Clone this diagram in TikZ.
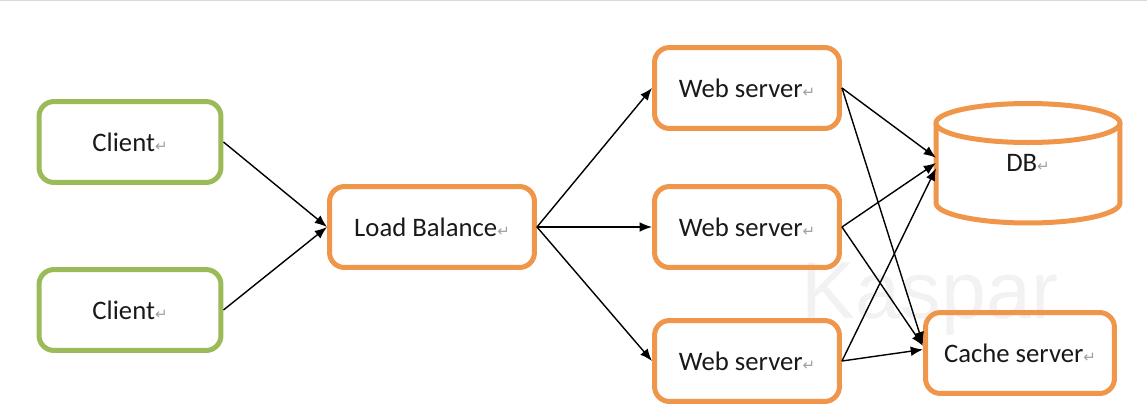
\documentclass[tikz,border=0pt]{standalone}
\usepackage{fontspec}
\setmainfont{Carlito}
\newfontfamily\symfont{DejaVu Sans}
\newfontfamily\markfont{Liberation Sans}
\usetikzlibrary{arrows.meta}

\definecolor{boxgreen}{RGB}{155,187,89}
\definecolor{boxorange}{RGB}{240,150,75}

% Word paragraph mark after each label
\newcommand{\retmark}{{\symfont\fontsize{8.5}{8.5}\selectfont\color{gray!75}\char"21B5}}

\tikzset{
	box/.style = {draw, rounded corners = 0.3cm, line width = 0.1cm, minimum height = 1.62cm,
		font = \fontsize{15.2}{17}\selectfont, text = black!90},
	clientbox/.style = {box, draw = boxgreen, minimum width = 3.64cm},
	serverbox/.style = {box, draw = boxorange, minimum width = 3.7cm},
}

\begin{document}
\begin{tikzpicture}[x = 0.02cm, y = -0.02cm, > = {Latex[length = 7pt, width = 5.5pt]},
	link/.style = {->, line width = 0.8pt}]

	% Page frame (coordinates in pixels of the screenshot)

	\useasboundingbox (0, 0) rectangle (1147, 419);
	\draw [gray!30, line width = 1.5pt] (0, 0) -- (1147, 0);

	% Watermark

	\node [anchor = base, text = gray!10, font = \markfont\fontsize{46}{46}\selectfont] (mark) at (930, 318) {Kaspar};

	% Clients and load balancer

	\node [clientbox] (client1) at (130, 142) {Client\retmark};
	\node [clientbox] (client2) at (130, 310) {Client\retmark};
	\node [serverbox, minimum width = 4.1cm] (lb) at (432, 227) {Load Balance\retmark};

	% Web servers

	\node [serverbox] (web1) at (747, 88) {Web server\retmark};
	\node [serverbox] (web2) at (747, 227) {Web server\retmark};
	\node [serverbox] (web3) at (747, 361) {Web server\retmark};

	% Storage

	\node [serverbox, minimum width = 3.78cm] (cache) at (1020, 353) {Cache server\retmark};
	\node [minimum width = 3.68cm, minimum height = 1.6cm, inner sep = 0pt, outer sep = 0pt,
		font = \fontsize{15.2}{17}\selectfont, text = black!90] (db) at (1028, 163) {DB\retmark};

	\begin{scope}[boxorange, line width = 0.1cm]
		\draw (db.north) ellipse [x radius = 1.84cm, y radius = 0.39cm];
		\draw (db.north west) -- (db.south west) arc [start angle = 180, end angle = 360,
			x radius = 1.84cm, y radius = 0.4cm] -- (db.north east);
	\end{scope}

	% Connections

	\begin{scope}[link]
		\draw (client1.east) -- (lb.west);
		\draw (client2.east) -- (lb.west);

		\draw (lb.east) -- (web1.west);
		\draw (lb.east) -- (web2.west);
		\draw (lb.east) -- (web3.west);

		\draw (web1.east) -- ([yshift = 3pt]db.west);
		\draw (web2.east) -- (db.west);
		\draw (web3.east) -- ([yshift = -3pt]db.west);

		\draw (web1.east) -- ([yshift = 5pt]cache.west);
		\draw (web2.east) -- ([yshift = 4pt]cache.west);
		\draw (web3.east) -- ([yshift = 2pt]cache.west);
	\end{scope}

\end{tikzpicture}
\end{document}
